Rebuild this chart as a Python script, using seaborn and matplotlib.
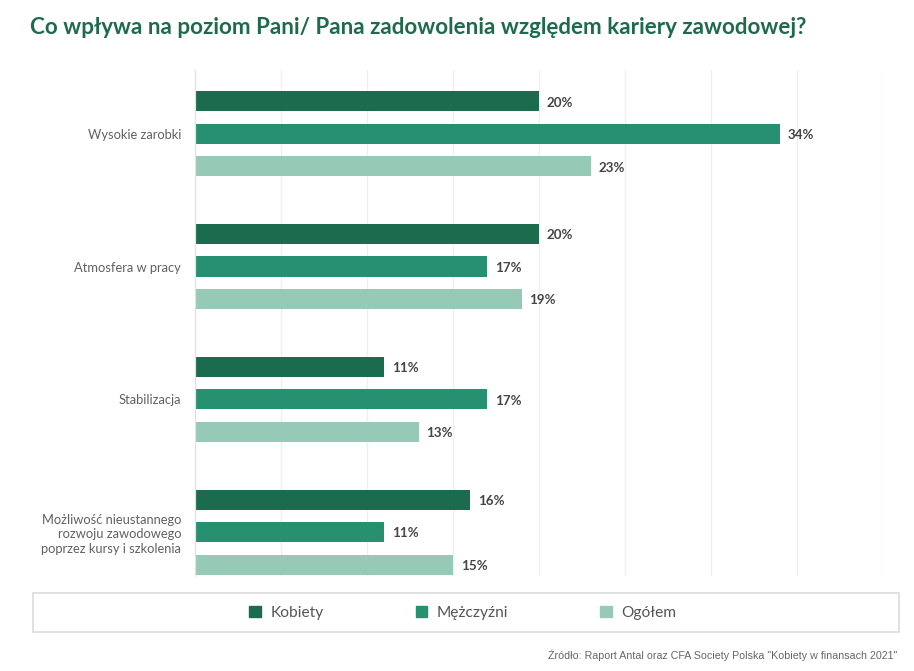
import pandas as pd
import matplotlib.pyplot as plt
import matplotlib.patches as mpatches
import seaborn as sns

# Data
categories = ['Wysokie zarobki', 'Atmosfera w pracy', 'Stabilizacja',
              'Możliwość nieustannego\nrozwoju zawodowego\npoprzez kursy i szkolenia']
groups = ['Kobiety', 'Mężczyźni', 'Ogółem']
kobiety = [20, 20, 11, 16]
mezczyzni = [34, 17, 17, 11]
ogolem = [23, 19, 13, 15]

colors = ['#1b6b4e', '#279070', '#96c9b6']

# Long-format table for seaborn
df = pd.DataFrame({
    'kategoria': categories * 3,
    'grupa': [g for g in groups for _ in categories],
    'wartosc': kobiety + mezczyzni + ogolem,
})

sns.set_theme(style='white')
plt.rcParams['font.family'] = ['Lato', 'DejaVu Sans']

fig = plt.figure(figsize=(9.14, 6.71), dpi=100)
ax = fig.add_axes([0.2133, 0.1416, 0.7527, 0.7541])

sns.barplot(data=df, y='kategoria', x='wartosc', hue='grupa', orient='h',
            palette=colors, width=0.735, order=categories, hue_order=groups,
            ax=ax, legend=False, saturation=1)

# thin the bars so there's white space between them
for p in ax.patches:
    h = p.get_height()
    new_h = h * 0.62
    p.set_y(p.get_y() + (h - new_h) / 2)
    p.set_height(new_h)
    p.set_edgecolor('none')

# value labels
for p in ax.patches:
    w = p.get_width()
    ax.text(w + 0.45, p.get_y() + p.get_height() / 2 + 0.01, f'{int(round(w))}%',
            va='center', ha='left', fontsize=9.6, fontweight='bold', color='#454545')

ax.set_xlim(0, 40)
ax.set_ylim(3.33, -0.48)
ax.set_xticks(range(0, 41, 5))
ax.set_xticklabels([])
ax.xaxis.grid(True, color='#efefef', linewidth=0.9)
ax.set_axisbelow(True)
ax.tick_params(axis='both', length=0)
ax.tick_params(axis='y', pad=10, labelsize=9.3, labelcolor='#606060')
for lbl in ax.get_yticklabels():
    lbl.set_horizontalalignment('right')
    lbl.set_multialignment('right')
    lbl.set_linespacing(1.25)
ax.set_xlabel('')
ax.set_ylabel('')
for s in ['top', 'right', 'bottom']:
    ax.spines[s].set_visible(False)
ax.spines['left'].set_color('#e2e2e2')
ax.spines['left'].set_linewidth(0.9)

# title
fig.text(0.033, 0.959, 'Co wpływa na poziom Pani/ Pana zadowolenia względem kariery zawodowej?',
         fontsize=16.1, fontweight='bold', color='#1e6b4c', ha='left', va='center')

# legend with its own box
box = mpatches.Rectangle((33 / 914, 1 - 632 / 671), (899 - 33) / 914, 39 / 671,
                         transform=fig.transFigure, facecolor='white',
                         edgecolor='#dcdcdc', linewidth=1.2)
fig.patches.append(box)
handles = [mpatches.Patch(color=c, label=g) for c, g in zip(colors, groups)]
fig.legend(handles=handles, loc='center', bbox_to_anchor=(463 / 914, 1 - 613 / 671),
           ncol=3, frameon=False, fontsize=11.2, handlelength=0.72, handleheight=0.72,
           handletextpad=0.65, columnspacing=5.9, labelcolor='#555555')

# source
fig.text(897 / 914, 1 - 655 / 671,
         'Źródło: Raport Antal oraz CFA Society Polska "Kobiety w finansach 2021"',
         fontsize=7.7, color='#666666', ha='right', va='center',
         family=['Liberation Sans Narrow', 'Liberation Sans', 'DejaVu Sans'])

fig.savefig('out.png', dpi=100)
